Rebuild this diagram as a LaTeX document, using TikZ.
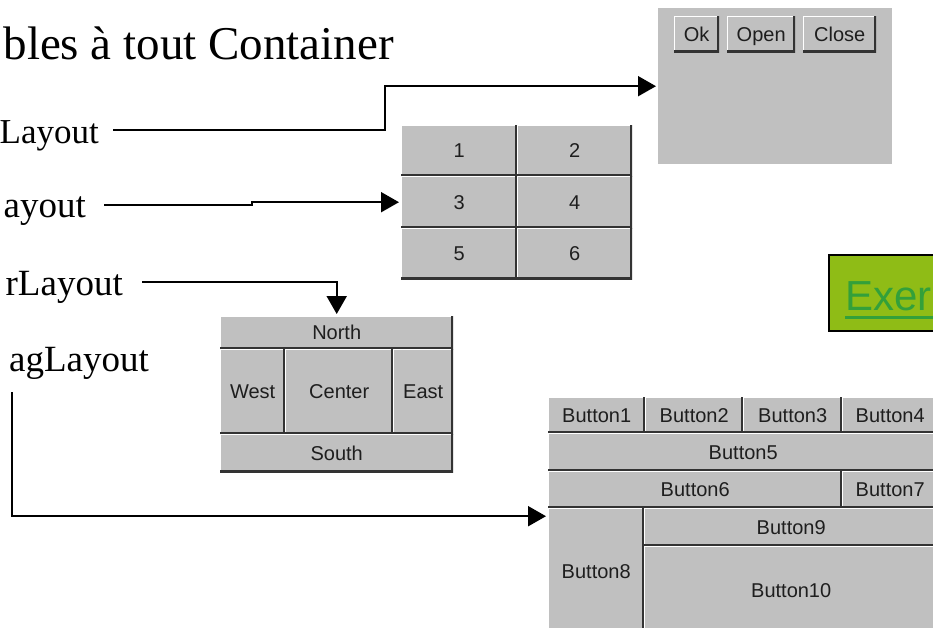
\documentclass[tikz,border=0pt]{standalone}
\usepackage{fontspec}
\setmainfont{Liberation Serif}
\setsansfont{Liberation Sans}
\usetikzlibrary{arrows.meta}
\definecolor{btngray}{RGB}{192,192,192}
\definecolor{btntext}{RGB}{30,30,30}
\definecolor{linkbg}{RGB}{143,188,22}
\definecolor{linktext}{RGB}{51,160,58}
\begin{document}
\begin{tikzpicture}[
        x=1pt, y=-1pt,
        layoutname/.style={anchor=base east, inner sep=0pt, font=\fontsize{37}{44}\selectfont},
        conn/.style={line width=2pt, -{Triangle[length=18pt,width=20pt]}, shorten >=2pt},
        panel/.style={rectangle, inner sep=0pt, anchor=north west},
        bevel/.style={
                path picture={
                        \draw[white, line width=2pt] (path picture bounding box.south west) -- (path picture bounding box.north west) -- (path picture bounding box.north east);
                        \draw[black!80, line width=4pt] (path picture bounding box.south west) -- (path picture bounding box.south east) -- (path picture bounding box.north east);
                    }
            },
        btn/.style 2 args={
                panel, fill=btngray, text=btntext, bevel,
                minimum width=#1, minimum height=#2,
                text height=14pt, text depth=0pt,
                font=\sffamily\fontsize{20}{24}\selectfont
            }
    ]
    \useasboundingbox (0,0) rectangle (933,628);
    \clip (0,0) rectangle (933,628);

    \node [layoutname, font=\fontsize{47}{56}\selectfont] (title) at (394,60) {bles à tout Container};

    \node [layoutname, font=\fontsize{35}{42}\selectfont] (lflow) at (99,144) {Layout};
    \node [layoutname] (lgrid) at (86,218) {ayout};
    \node [layoutname] (lborder) at (123,295) {rLayout};
    \node [layoutname] (lbag) at (149,371) {agLayout};

    % FlowLayout
    \node [panel, fill=btngray, minimum width=234pt, minimum height=156pt] (flow) at (658,8) {};
    \node [btn={45pt}{36pt}] (ok) at (674,16) {Ok};
    \node [btn={68pt}{36pt}] (open) at (727,16) {Open};
    \node [btn={73pt}{36pt}] (close) at (803,16) {Close};

    % GridLayout
    \node [panel, minimum width=231pt, minimum height=154pt] (grid) at (401,125) {};
    \node [btn={116pt}{51pt}] (g1) at (401,125) {1};
    \node [btn={115pt}{51pt}] (g2) at (517,125) {2};
    \node [btn={116pt}{52pt}] (g3) at (401,176) {3};
    \node [btn={115pt}{52pt}] (g4) at (517,176) {4};
    \node [btn={116pt}{51pt}] (g5) at (401,228) {5};
    \node [btn={115pt}{51pt}] (g6) at (517,228) {6};

    % BorderLayout
    \node [panel, minimum width=233pt, minimum height=156pt] (border) at (220,316) {};
    \node [btn={233pt}{33pt}] (north) at (220,316) {North};
    \node [btn={65pt}{85pt}] (west) at (220,349) {West};
    \node [btn={108pt}{85pt}] (center) at (285,349) {Center};
    \node [btn={60pt}{85pt}] (east) at (393,349) {East};
    \node [btn={233pt}{38pt}] (south) at (220,434) {South};

    % GridBagLayout
    \node [panel, minimum width=390pt, minimum height=238pt] (bag) at (548,397) {};
    \node [btn={97pt}{36pt}] (b1) at (548,397) {Button1};
    \node [btn={98pt}{36pt}] (b2) at (645,397) {Button2};
    \node [btn={99pt}{36pt}] (b3) at (743,397) {Button3};
    \node [btn={96pt}{36pt}] (b4) at (842,397) {Button4};
    \node [btn={390pt}{38pt}] (b5) at (548,433) {Button5};
    \node [btn={294pt}{37pt}] (b6) at (548,471) {Button6};
    \node [btn={96pt}{37pt}] (b7) at (842,471) {Button7};
    \node [btn={96pt}{127pt}] (b8) at (548,508) {Button8};
    \node [btn={294pt}{38pt}] (b9) at (644,508) {Button9};
    \node [btn={294pt}{89pt}] (b10) at (644,546) {Button10};

    \node [panel, fill=linkbg, draw=black, line width=2pt, minimum width=130pt, minimum height=76pt] (link) at (828,254) {};
    \node [anchor=base west, inner sep=0pt, text=linktext, font=\sffamily\fontsize{42}{50}\selectfont] (exer) at (845,310) {Exer};
    \draw [linktext, line width=3pt] ([yshift=-7pt]exer.base west) -- ([yshift=-7pt,xshift=20pt]exer.base east);

    \coordinate (bagstart) at (12,392);

    \draw [conn] ([xshift=14pt,yshift=14pt]lflow.base east) -- ++(272,0) |- (flow.west);
    \draw [conn] ([xshift=18pt,yshift=13pt]lgrid.base east) -- ++(148,0) |- (grid.west);
    \draw [conn] ([xshift=19pt,yshift=13pt]lborder.base east) -| (border.north);
    \draw [conn] (bagstart) |- (bag.west);
\end{tikzpicture}
\end{document}
